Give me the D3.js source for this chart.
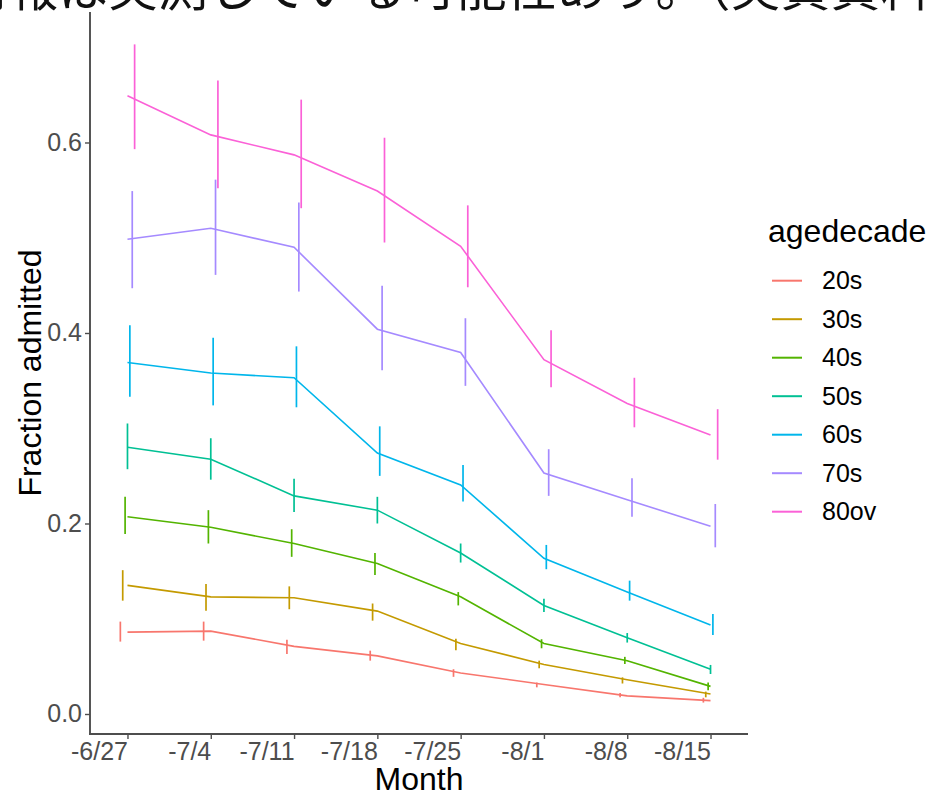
<!DOCTYPE html>
<html>
<head>
<meta charset="utf-8">
<script src="https://cdn.jsdelivr.net/npm/d3@7"></script>
<style>
  html, body { margin: 0; padding: 0; background: #ffffff; }
  svg { display: block; }
</style>
</head>
<body>
<svg id="chart" width="928" height="794"></svg>
<script>
// ---- data ----
const months = ["-6/27", "-7/4", "-7/11", "-7/18", "-7/25", "-8/1", "-8/8", "-8/15"];
const ageGroups = ["20s", "30s", "40s", "50s", "60s", "70s", "80ov"];
const groupColors = ["#F8766D", "#C49A00", "#53B400", "#00C094", "#00B6EB", "#A58AFF", "#FB61D7"];
const yTicks = [0.0, 0.2, 0.4, 0.6];

const mean20s = [0.086, 0.087, 0.071, 0.061, 0.043, 0.031, 0.019, 0.014];
const lo20s   = [0.076, 0.077, 0.063, 0.056, 0.039, 0.028, 0.0175, 0.012];
const hi20s   = [0.097, 0.097, 0.078, 0.0665, 0.047, 0.033, 0.022, 0.017];

const mean30s = [0.135, 0.123, 0.122, 0.108, 0.074, 0.052, 0.036, 0.021];
const lo30s   = [0.119, 0.1085, 0.110, 0.098, 0.067, 0.048, 0.032, 0.0175];
const hi30s   = [0.151, 0.1365, 0.134, 0.116, 0.079, 0.056, 0.0385, 0.0235];

const mean40s = [0.207, 0.196, 0.179, 0.158, 0.123, 0.074, 0.056, 0.029];
const lo40s   = [0.189, 0.179, 0.165, 0.146, 0.114, 0.069, 0.0525, 0.025];
const hi40s   = [0.228, 0.214, 0.194, 0.169, 0.128, 0.0785, 0.060, 0.033];

const mean50s = [0.280, 0.2675, 0.229, 0.214, 0.169, 0.114, 0.080, 0.047];
const lo50s   = [0.257, 0.246, 0.212, 0.200, 0.159, 0.107, 0.075, 0.042];
const hi50s   = [0.305, 0.2895, 0.247, 0.228, 0.179, 0.121, 0.085, 0.0515];

const mean60s = [0.369, 0.358, 0.353, 0.274, 0.2405, 0.1635, 0.128, 0.0935];
const lo60s   = [0.333, 0.324, 0.322, 0.250, 0.223, 0.152, 0.119, 0.083];
const hi60s   = [0.408, 0.395, 0.386, 0.302, 0.2615, 0.1775, 0.140, 0.105];

const mean70s = [0.4985, 0.510, 0.490, 0.404, 0.3795, 0.253, 0.225, 0.197];
const lo70s   = [0.447, 0.461, 0.4435, 0.361, 0.3445, 0.229, 0.207, 0.175];
const hi70s   = [0.549, 0.561, 0.537, 0.4495, 0.4155, 0.278, 0.2475, 0.2205];

const mean80ov = [0.649, 0.608, 0.587, 0.549, 0.491, 0.372, 0.326, 0.293];
const lo80ov   = [0.593, 0.552, 0.531, 0.495, 0.448, 0.343, 0.301, 0.267];
const hi80ov   = [0.703, 0.665, 0.645, 0.605, 0.534, 0.403, 0.353, 0.320];

const headerText = "情報は実測している可能性あり。（実質資料";

// ---- build series table ----
const meanArrays = [mean20s, mean30s, mean40s, mean50s, mean60s, mean70s, mean80ov];
const loArrays = [lo20s, lo30s, lo40s, lo50s, lo60s, lo70s, lo80ov];
const hiArrays = [hi20s, hi30s, hi40s, hi50s, hi60s, hi70s, hi80ov];
const series = ageGroups.map((g, gi) => ({
  group: g, gi,
  color: groupColors[gi],
  points: months.map((m, i) => ({ month: m, mean: meanArrays[gi][i], lo: loArrays[gi][i], hi: hiArrays[gi][i] }))
}));

// ---- layout ----
const svg = d3.select("#chart");
const panel = { left: 90, right: 748, top: 12, bottom: 734 };
const fontFamily = "'Liberation Sans', Arial, Helvetica, sans-serif";

const x = d3.scalePoint().domain(months).range([panel.left, panel.right]).padding(0.45);
const y = d3.scaleLinear().domain([-0.021, 0.737]).range([panel.bottom, panel.top]);
const color = d3.scaleOrdinal().domain(ageGroups).range(groupColors);

const dodgeWidth = 0.2;
const dodge = gi => (gi - (ageGroups.length - 1) / 2) * (dodgeWidth / ageGroups.length) * x.step();

// header text (cropped at top)
svg.append("text")
  .attr("x", -42).attr("y", 6)
  .attr("font-family", "'Noto Sans CJK JP', sans-serif")
  .attr("font-size", 50)
  .attr("fill", "#111")
  .text(headerText);

// lines
const line = d3.line().x(d => x(d.month)).y(d => y(d.mean));
const plot = svg.append("g");
series.forEach(s => {
  plot.append("path")
    .datum(s.points)
    .attr("d", line)
    .attr("fill", "none")
    .attr("stroke", color(s.group))
    .attr("stroke-width", 1.6);
});
// error bars
series.forEach(s => {
  plot.selectAll(null)
    .data(s.points)
    .enter().append("line")
    .attr("x1", d => x(d.month) + dodge(s.gi))
    .attr("x2", d => x(d.month) + dodge(s.gi))
    .attr("y1", d => y(d.lo))
    .attr("y2", d => y(d.hi))
    .attr("stroke", color(s.group))
    .attr("stroke-width", 1.7);
});

// axes
const axisColor = "#4D4D4D";
const tickColor = "#4D4D4D";
const xAxis = svg.append("g")
  .attr("transform", `translate(0,${panel.bottom})`)
  .call(d3.axisBottom(x).tickSize(5).tickSizeOuter(0).tickPadding(3));
xAxis.select(".domain").remove();
xAxis.selectAll(".tick line").attr("stroke", axisColor).attr("stroke-width", 1.4);
xAxis.selectAll(".tick text")
  .attr("font-family", fontFamily).attr("font-size", 25).attr("fill", tickColor)
  .attr("text-anchor", "end").attr("dx", 0);

const yAxis = svg.append("g")
  .attr("transform", `translate(${panel.left},0)`)
  .call(d3.axisLeft(y).tickValues(yTicks).tickFormat(d3.format(".1f")).tickSize(5).tickSizeOuter(0).tickPadding(3));
yAxis.select(".domain").remove();
yAxis.selectAll(".tick line").attr("stroke", axisColor).attr("stroke-width", 1.4);
yAxis.selectAll(".tick text")
  .attr("font-family", fontFamily).attr("font-size", 25).attr("fill", tickColor);

// axis lines
svg.append("line")
  .attr("x1", panel.left).attr("x2", panel.left)
  .attr("y1", panel.top).attr("y2", panel.bottom + 0.9)
  .attr("stroke", axisColor).attr("stroke-width", 1.9);
svg.append("line")
  .attr("x1", panel.left - 0.9).attr("x2", panel.right)
  .attr("y1", panel.bottom).attr("y2", panel.bottom)
  .attr("stroke", axisColor).attr("stroke-width", 1.9);

// axis titles
svg.append("text")
  .attr("x", (panel.left + panel.right) / 2).attr("y", 790)
  .attr("text-anchor", "middle")
  .attr("font-family", fontFamily).attr("font-size", 32).attr("fill", "#000")
  .text("Month");
svg.append("text")
  .attr("transform", `translate(41,${(panel.top + panel.bottom) / 2}) rotate(-90)`)
  .attr("text-anchor", "middle")
  .attr("font-family", fontFamily).attr("font-size", 32).attr("fill", "#000")
  .text("Fraction admitted");

// legend
const legend = svg.append("g");
legend.append("text")
  .attr("x", 768).attr("y", 242)
  .attr("font-family", fontFamily).attr("font-size", 32).attr("fill", "#000")
  .text("agedecade");
const legendY = d3.scalePoint().domain(ageGroups).range([280.7, 511.7]);
ageGroups.forEach(g => {
  legend.append("line")
    .attr("x1", 772).attr("x2", 802)
    .attr("y1", legendY(g)).attr("y2", legendY(g))
    .attr("stroke", color(g)).attr("stroke-width", 2);
  legend.append("text")
    .attr("x", 822).attr("y", legendY(g))
    .attr("dy", "0.35em")
    .attr("font-family", fontFamily).attr("font-size", 25).attr("fill", "#000")
    .text(g);
});
</script>
</body>
</html>
